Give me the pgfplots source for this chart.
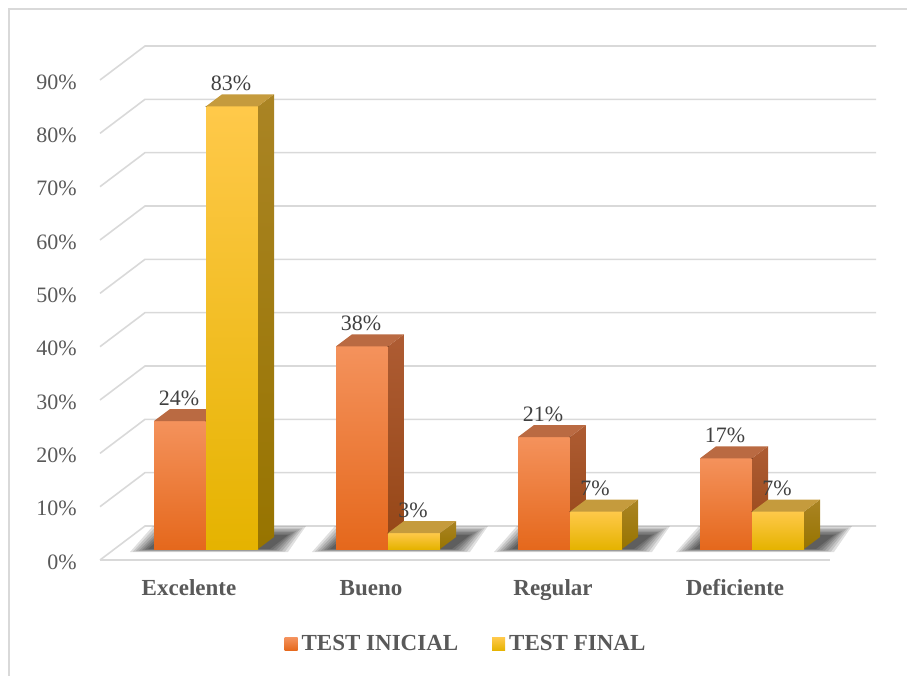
\documentclass[border=0pt]{standalone}
\usepackage{fontspec}
\setmainfont{Liberation Serif}
\usepackage{pgfplots}
\usepackage{pgfplotstable}
\pgfplotsset{compat=1.18}
\definecolor{gridc}{HTML}{D9D9D9}
\definecolor{framec}{HTML}{D9D9D9}
\definecolor{oT}{HTML}{F4925C}
\definecolor{oM}{HTML}{F47B2B}
\definecolor{oB}{HTML}{E5681C}
\definecolor{oSideT}{HTML}{AE5C33}
\definecolor{oSideB}{HTML}{954616}
\definecolor{oTop}{HTML}{BA6A42}
\definecolor{yT}{HTML}{FFC94A}
\definecolor{yM}{HTML}{FFC50A}
\definecolor{yB}{HTML}{E5B300}
\definecolor{ySideT}{HTML}{AA8424}
\definecolor{ySideB}{HTML}{977400}
\definecolor{yTop}{HTML}{C59B3D}
\definecolor{tickc}{HTML}{595959}
\definecolor{labc}{HTML}{404040}

\pgfplotstableread{
cat inicial final
0 24 83
1 38 3
2 21 7
3 17 7
}\datatable

\begin{document}
\begin{tikzpicture}
\path[use as bounding box] (0,0) rectangle (907pt,675pt);
\draw[framec, line width=1.2pt] (9pt,-5pt) -- (9pt,666pt) -- (915pt,666pt);
\begin{axis}[
  at={(0pt,0pt)}, anchor=south west,
  x=182pt, y=5.3333pt,
  xmin=-1.13187, xmax=3.85165, ymin=-23.625, ymax=102.94,
  clip=false,
  axis line style={draw=none},
  major tick style={draw=none},
  /pgf/number format/assume math mode=true,
  ytick={0,10,...,90},
  yticklabel={\pgfmathprintnumber{\tick}\%},
  yticklabel style={anchor=east, inner sep=0pt, xshift=77pt, yshift=-13pt,
    font=\fontsize{22}{24}\selectfont, text=tickc},
  xtick={0,1,2,3},
  xticklabels={Excelente,Bueno,Regular,Deficiente},
  xticklabel style={anchor=base, inner sep=0pt, yshift=80pt, xshift=-17pt,
    font=\bfseries\fontsize{23}{25}\selectfont, text=tickc},
  legend style={at={(0.5149,0.0459)}, anchor=center, draw=none, fill=none,
    legend columns=2, font=\bfseries\fontsize{23}{25}\selectfont, text=tickc,
    nodes={inner xsep=4pt, inner ysep=0pt},
    /tikz/every even column/.append style={column sep=30pt}},
]
% grid lines (walls)
\pgfplotsinvokeforeach{0,10,...,90}{
  \draw[gridc, line width=1.6pt]
    ([shift={(-106pt,-11pt)}]axis cs:0,#1) --
    ([shift={(-61pt,23pt)}]axis cs:0,#1) --
    ([shift={(670pt,23pt)}]axis cs:0,#1);
}
\draw[gridc, line width=1.6pt]
  ([shift={(-106pt,-11pt)}]axis cs:0,0) -- ([shift={(624pt,-11pt)}]axis cs:0,0);
% soft floor shadows
\pgfplotsinvokeforeach{0,1,2,3}{
  \fill[black, opacity=0.12] ([shift={(-76pt,-3pt)}]axis cs:#1,0) -- ([shift={(-53pt,23pt)}]axis cs:#1,0) -- ([shift={(100pt,23pt)}]axis cs:#1,0) -- ([shift={(82pt,-3pt)}]axis cs:#1,0) -- cycle;
  \fill[black, opacity=0.12] ([shift={(-73pt,-2.5pt)}]axis cs:#1,0) -- ([shift={(-51pt,21.5pt)}]axis cs:#1,0) -- ([shift={(97pt,21.5pt)}]axis cs:#1,0) -- ([shift={(79pt,-2.5pt)}]axis cs:#1,0) -- cycle;
  \fill[black, opacity=0.13] ([shift={(-70pt,-2pt)}]axis cs:#1,0) -- ([shift={(-49pt,20pt)}]axis cs:#1,0) -- ([shift={(94pt,20pt)}]axis cs:#1,0) -- ([shift={(76pt,-2pt)}]axis cs:#1,0) -- cycle;
  \fill[black, opacity=0.13] ([shift={(-67pt,-1.5pt)}]axis cs:#1,0) -- ([shift={(-47pt,18.5pt)}]axis cs:#1,0) -- ([shift={(91pt,18.5pt)}]axis cs:#1,0) -- ([shift={(73pt,-1.5pt)}]axis cs:#1,0) -- cycle;
  \fill[black, opacity=0.14] ([shift={(-64pt,-1pt)}]axis cs:#1,0) -- ([shift={(-46pt,17pt)}]axis cs:#1,0) -- ([shift={(88pt,17pt)}]axis cs:#1,0) -- ([shift={(70pt,-1pt)}]axis cs:#1,0) -- cycle;
  \fill[black, opacity=0.14] ([shift={(-61pt,-0.5pt)}]axis cs:#1,0) -- ([shift={(-44pt,15.5pt)}]axis cs:#1,0) -- ([shift={(85pt,15.5pt)}]axis cs:#1,0) -- ([shift={(67pt,-0.5pt)}]axis cs:#1,0) -- cycle;
  \fill[black, opacity=0.15] ([shift={(-58pt,0pt)}]axis cs:#1,0) -- ([shift={(-42pt,14pt)}]axis cs:#1,0) -- ([shift={(82pt,14pt)}]axis cs:#1,0) -- ([shift={(64pt,0pt)}]axis cs:#1,0) -- cycle;
}
% TEST INICIAL bars (front, side, top faces and value label)
\addplot[forget plot, scatter, only marks, mark=*, mark size=0.1pt,
  mark options={draw=none, fill=none},
  visualization depends on={\thisrow{inicial} \as \val},
  scatter/@pre marker code/.code={%
    \pgfmathsetlengthmacro\barh{\val*5.3333pt}%
    \shade[draw=none, top color=oT, middle color=oM, bottom color=oB] (-52pt,0pt) rectangle (0pt,-\barh);
    \shade[draw=none, top color=oSideT, bottom color=oSideB] (0pt,0pt) -- ++(16pt,12pt) -- ++(0pt,-\barh) -- ++(-16pt,-12pt) -- cycle;
    \fill[draw=none, oTop] (-52pt,0pt) -- ++(16pt,12pt) -- ++(52pt,0pt) -- ++(-16pt,-12pt) -- cycle;
    \node[anchor=base, inner sep=0pt, font=\fontsize{22}{24}\selectfont, text=labc]
      at (-27pt,16pt) {\pgfmathprintnumber{\val}\%};
  },
  scatter/@post marker code/.code={},
] table[x=cat, y=inicial] {\datatable};
% TEST FINAL bars
\addplot[forget plot, scatter, only marks, mark=*, mark size=0.1pt,
  mark options={draw=none, fill=none},
  visualization depends on={\thisrow{final} \as \val},
  scatter/@pre marker code/.code={%
    \pgfmathsetlengthmacro\barh{\val*5.3333pt}%
    \shade[draw=none, top color=yT, middle color=yM, bottom color=yB] (0pt,0pt) rectangle (52pt,-\barh);
    \shade[draw=none, top color=ySideT, bottom color=ySideB] (52pt,0pt) -- ++(16pt,12pt) -- ++(0pt,-\barh) -- ++(-16pt,-12pt) -- cycle;
    \fill[draw=none, yTop] (0pt,0pt) -- ++(16pt,12pt) -- ++(52pt,0pt) -- ++(-16pt,-12pt) -- cycle;
    \node[anchor=base, inner sep=0pt, font=\fontsize{22}{24}\selectfont, text=labc]
      at (25pt,16pt) {\pgfmathprintnumber{\val}\%};
  },
  scatter/@post marker code/.code={},
] table[x=cat, y=final] {\datatable};
\addlegendimage{legend image code/.code={\shade[draw=none, top color=oT, bottom color=oB] (0pt,-6.5pt) rectangle (13pt,6.5pt);}}
\addlegendentry{TEST INICIAL}
\addlegendimage{legend image code/.code={\shade[draw=none, top color=yT, bottom color=yB] (0pt,-6.5pt) rectangle (13pt,6.5pt);}}
\addlegendentry{TEST FINAL}
\end{axis}
\end{tikzpicture}
\end{document}
